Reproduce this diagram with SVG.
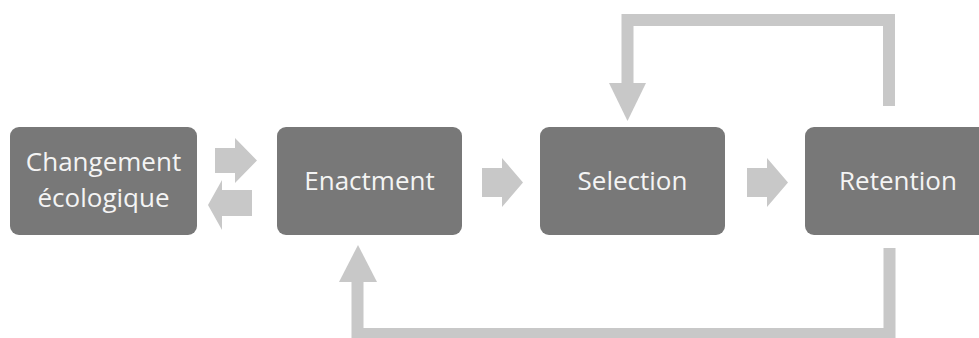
<svg xmlns="http://www.w3.org/2000/svg" width="979" height="338" viewBox="0 0 979 338">
<style>
.box{fill:#787878;}
.lbl{fill:#f4f4f4;font-family:"Open Sans","Liberation Sans",sans-serif;font-size:26px;text-anchor:middle;}
.arr{fill:#c8c8c8;}
.loop{fill:none;stroke:#c8c8c8;stroke-width:12;stroke-linejoin:miter;}
</style>
<rect width="979" height="338" fill="#ffffff"/>
<g id="connectors">
<polygon class="arr" points="215,148 235,148 235,138 257,160.5 235,183 235,173 215,173"/>
<polygon class="arr" points="252,190 222,190 222,180 208,205 222,230 222,216 252,216"/>
<polygon class="arr" points="482,168 502,168 502,158 523,182.5 502,207 502,197 482,197"/>
<polygon class="arr" points="747,168 767,168 767,158 788,182.5 767,207 767,197 747,197"/>
<path class="loop" d="M889,106 V20 H627.5 V84"/>
<polygon class="arr" points="609,83 646,83 627.5,121"/>
<path class="loop" d="M889.5,248 V334 H357.5 V281"/>
<polygon class="arr" points="339,282 377,282 358,245"/>
</g>
<g id="changement">
<rect class="box" x="10" y="127" width="187" height="108" rx="9"/>
<text class="lbl" x="103.5" y="171">Changement</text>
<text class="lbl" x="103.5" y="207">écologique</text>
</g>
<g id="enactment">
<rect class="box" x="277" y="127" width="185" height="108" rx="9"/>
<text class="lbl" x="369.5" y="190">Enactment</text>
</g>
<g id="selection">
<rect class="box" x="540" y="127" width="185" height="108" rx="9"/>
<text class="lbl" x="632.5" y="190">Selection</text>
</g>
<g id="retention">
<rect class="box" x="805" y="127" width="185" height="108" rx="9"/>
<text class="lbl" x="898" y="190">Retention</text>
</g>
</svg>
